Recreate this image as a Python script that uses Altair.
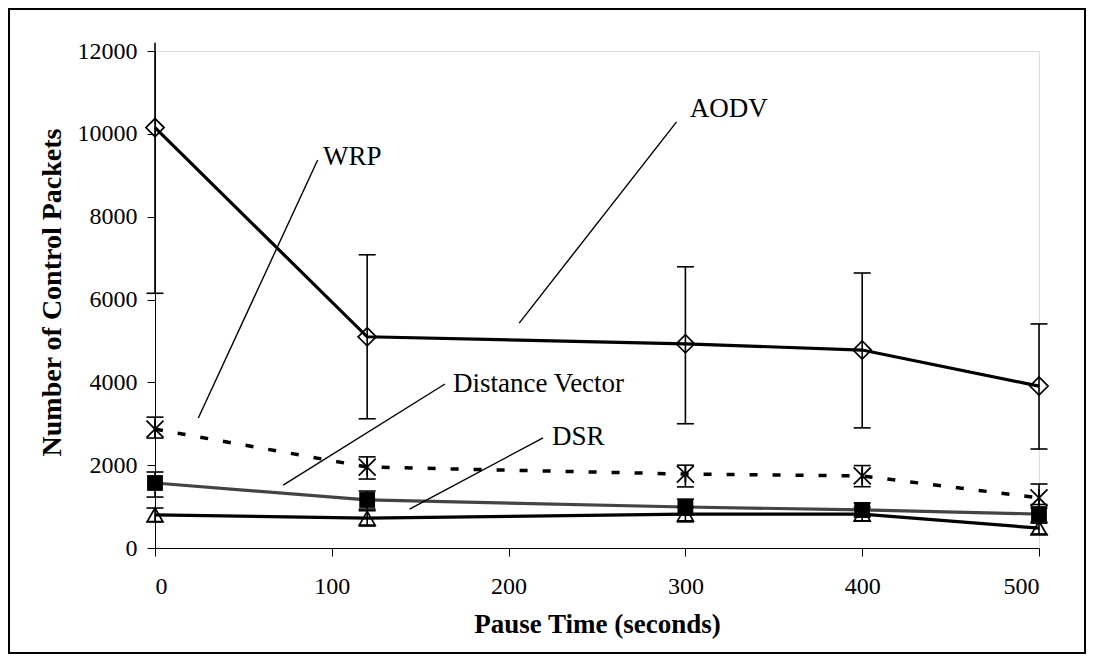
import altair as alt
import pandas as pd

# ---- data ----
pause = [0, 120, 300, 400, 500]

aodv    = [10150, 5100, 4930, 4780, 3910]
aodv_lo = [6150, 3120, 3000, 2900, 2390]
aodv_hi = [12200, 7080, 6790, 6640, 5410]

wrp    = [2870, 1955, 1785, 1740, 1210]
wrp_lo = [2655, 1665, 1475, 1480, 1050]
wrp_hi = [3160, 2200, 2000, 1990, 1545]

dv    = [1570, 1160, 990, 920, 820]
dv_lo = [1230, 940, 800, 750, 630]
dv_hi = [1835, 1375, 1180, 1085, 965]

dsr    = [800, 720, 820, 820, 480]
dsr_lo = [630, 530, 630, 650, 340]
dsr_hi = [965, 900, 990, 990, 600]

series_names = ["AODV", "WRP", "Distance Vector", "DSR"]

# annotation labels and leader lines (data coordinates)
ann_label = ["AODV", "WRP", "Distance Vector", "DSR"]
ann_tx = [302.5, 95.0, 168.5, 224.5]
ann_ty = [10600, 9450, 3950, 2690]
ann_x1 = [206.0, 24.5, 72.5, 144.0]
ann_y1 = [5430, 3140, 1520, 940]
ann_x2 = [295.0, 92.0, 164.0, 219.5]
ann_y2 = [10290, 9370, 3960, 2660]

rows = []
for name, vals, lo, hi in [
    ("AODV", aodv, aodv_lo, aodv_hi),
    ("WRP", wrp, wrp_lo, wrp_hi),
    ("Distance Vector", dv, dv_lo, dv_hi),
    ("DSR", dsr, dsr_lo, dsr_hi),
]:
    for p, v, l, h in zip(pause, vals, lo, hi):
        rows.append({"series": name, "pause": p, "value": v, "lo": l, "hi": h})
df = pd.DataFrame(rows)

ann = pd.DataFrame({
    "label": ann_label, "tx": ann_tx, "ty": ann_ty,
    "x1": ann_x1, "y1": ann_y1, "x2": ann_x2, "y2": ann_y2,
})

FONT = "Liberation Serif"
W, H = 884, 497
PAD = {"left": 147, "top": 43, "right": 47, "bottom": 106}

xscale = alt.Scale(domain=[0, 500], nice=False, zero=False)
yscale = alt.Scale(domain=[0, 12000], nice=False)

xaxis = alt.Axis(
    title="Pause Time (seconds)", values=[0, 100, 200, 300, 400, 500],
    grid=False, tickSize=8, labelPadding=18, titlePadding=13,
    labelFont=FONT, labelFontSize=24, labelColor="black",
    titleFont=FONT, titleFontSize=27, titleFontWeight="bold", titleColor="black",
    domainColor="black", tickColor="black", domainWidth=1, tickWidth=1,
)
yaxis = alt.Axis(
    title="Number of Control Packets", values=list(range(0, 12001, 2000)),
    format="d",
    grid=False, tickSize=8, labelPadding=10, titlePadding=11, titleY=241,
    labelFont=FONT, labelFontSize=24, labelColor="black",
    titleFont=FONT, titleFontSize=28, titleFontWeight="bold", titleColor="black",
    domainColor="black", tickColor="black", domainWidth=1, tickWidth=1,
)

base = alt.Chart(df)
X = alt.X("pause:Q", scale=xscale, axis=xaxis)
Y = alt.Y("value:Q", scale=yscale, axis=yaxis)

styles = {
    "AODV": dict(color="black", width=3.2, dash=None),
    "WRP": dict(color="black", width=3.5, dash=[8, 15]),
    "Distance Vector": dict(color="#444444", width=3.2, dash=None),
    "DSR": dict(color="black", width=3.2, dash=None),
}

layers = []
for name in series_names:
    st = styles[name]
    sub = base.transform_filter(alt.datum.series == name)
    line_kw = dict(color=st["color"], strokeWidth=st["width"])
    if st["dash"]:
        line_kw["strokeDash"] = st["dash"]
    layers.append(sub.mark_line(**line_kw).encode(x=X, y=Y))

for name in series_names:
    sub = base.transform_filter(alt.datum.series == name)
    # vertical error bar
    layers.append(sub.mark_rule(color="black", strokeWidth=1.6).encode(
        x=alt.X("pause:Q", scale=xscale), y=alt.Y("lo:Q", scale=yscale), y2="hi:Q"))
    # caps
    layers.append(sub.mark_point(shape="stroke", size=289, color="black",
                                 strokeWidth=1.6, opacity=1).encode(
        x=alt.X("pause:Q", scale=xscale), y=alt.Y("lo:Q", scale=yscale)))
    layers.append(sub.transform_filter(alt.datum.hi <= 12000).mark_point(
        shape="stroke", size=289, color="black", strokeWidth=1.6, opacity=1).encode(
        x=alt.X("pause:Q", scale=xscale), y=alt.Y("hi:Q", scale=yscale)))

# markers
star = "M-1,-1L1,1M1,-1L-1,1M0,-1L0,1"
marker_defs = {
    "AODV": dict(shape="diamond", size=330, filled=False, strokeWidth=1.7),
    "WRP": dict(shape=star, size=290, filled=False, strokeWidth=1.8),
    "Distance Vector": dict(shape="square", size=250, filled=True, strokeWidth=0),
    "DSR": dict(shape="triangle-up", size=250, filled=False, strokeWidth=1.7),
}
for name in series_names:
    sub = base.transform_filter(alt.datum.series == name)
    md = marker_defs[name]
    layers.append(sub.mark_point(color="black", opacity=1, **md).encode(
        x=alt.X("pause:Q", scale=xscale), y=alt.Y("value:Q", scale=yscale)))

# annotation leader lines + labels
annc = alt.Chart(ann)
layers.append(annc.mark_rule(color="black", strokeWidth=1.4).encode(
    x=alt.X("x1:Q", scale=xscale), y=alt.Y("y1:Q", scale=yscale),
    x2="x2:Q", y2="y2:Q"))
layers.append(annc.mark_text(align="left", baseline="middle", font=FONT,
                             fontSize=27, color="black").encode(
    x=alt.X("tx:Q", scale=xscale), y=alt.Y("ty:Q", scale=yscale), text="label:N"))

# outer frame around the whole figure
frame = alt.Chart(pd.DataFrame({"a": [0]})).mark_rect(
    fill=None, stroke="black", strokeWidth=2).encode(
    x=alt.value(-PAD["left"] + 1), x2=alt.value(W + PAD["right"] - 1),
    y=alt.value(-PAD["top"] + 1), y2=alt.value(H + PAD["bottom"] - 1))
layers.append(frame)

chart = alt.layer(*layers).properties(
    width=W, height=H,
    autosize=alt.AutoSizeParams(type="none"),
    padding=PAD,
).configure_view(stroke=None).configure(background="white")

chart.save("out.html", embed_options={"renderer": "svg", "actions": False})
